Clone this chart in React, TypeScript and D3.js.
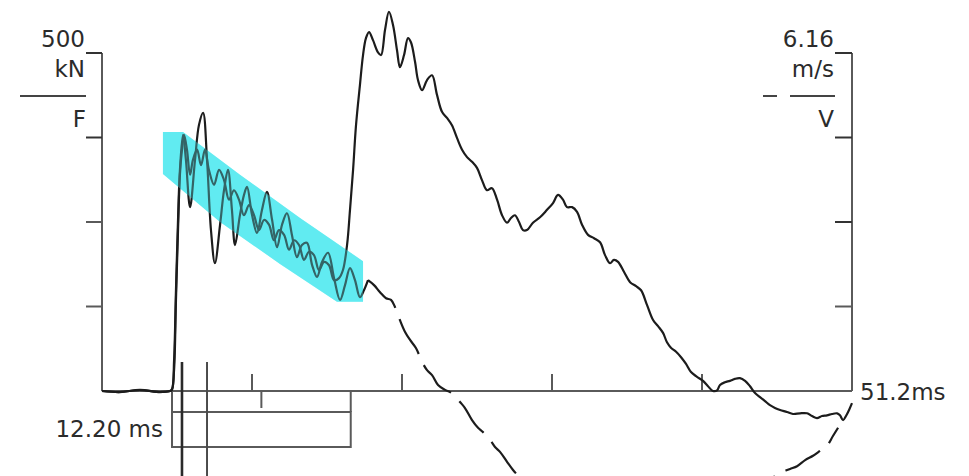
import React, { useEffect, useRef } from 'react'
import * as d3 from 'd3'

// force trace (solid), time in ms / force in kN
const forceTime = [
	0, 1.23, 2.59, 3.96, 4.64, 4.78, 4.92, 5.05, 5.19, 5.32, 5.46, 5.6, 5.8, 6.01, 6.21, 6.49, 6.76, 7.03,
	7.3, 7.65, 7.99, 8.33, 8.67, 9.01, 9.35, 9.69, 10.04, 10.38, 10.72, 11.06, 11.4, 11.74, 12.08, 12.43,
	12.77, 13.11, 13.45, 13.79, 14.13, 14.47, 14.81, 15.16, 15.5, 15.84, 16.18, 16.45, 16.73, 16.93, 17.14,
	17.34, 17.61, 17.82, 18.02, 18.23, 18.5, 18.84, 19.05, 19.32, 19.59, 19.87, 20.14, 20.34, 20.62, 20.89,
	21.09, 21.37, 21.57, 21.85, 22.19, 22.53, 22.87, 23.21, 23.55, 23.89, 24.24, 24.58, 24.92, 25.26, 25.6,
	25.94, 26.28, 26.62, 26.97, 27.31, 27.65, 27.92, 28.19, 28.47, 28.74, 29.01, 29.42, 29.9, 30.38, 30.79,
	31.13, 31.47, 31.74, 32.09, 32.43, 32.77, 33.18, 33.59, 34.0, 34.34, 34.68, 34.95, 35.23, 35.64, 36.05,
	36.46, 36.8, 37.21, 37.62, 37.96, 38.3, 38.57, 38.84, 39.19, 39.53, 39.87, 40.21, 40.62, 41.03, 41.37,
	41.71, 41.99, 42.19, 42.53, 42.87, 43.21, 43.55, 43.9, 44.24, 44.58, 44.92, 45.26, 45.6, 45.94, 46.29,
	46.76, 47.17, 47.65, 48.13, 48.47, 48.81, 49.15, 49.49, 49.84, 50.18, 50.38, 50.59, 50.79, 51.0, 51.2,
]
const forceKN = [
	0, -1.5, 1.5, -1.5, 0, 3, 31, 135, 238, 320, 357, 379, 357, 320, 342, 357, 334, 357,
	327, 305, 327, 312, 283, 297, 283, 260, 275, 260, 238, 253, 246, 223, 238, 231,
	209, 223, 216, 194, 206, 201, 179, 191, 186, 164, 167, 179, 216, 268, 327,
	393, 453, 497, 522, 531, 519, 501, 497, 534, 561, 541, 504, 479, 497, 522,
	516, 487, 460, 445, 460, 467, 438, 413, 404, 393, 374, 357, 346, 339, 330,
	312, 297, 300, 283, 260, 249, 256, 260, 250, 238, 238, 249, 257, 268, 278,
	290, 283, 272, 272, 265, 246, 231, 226, 220, 201, 189, 194, 191, 176, 161,
	155, 149, 127, 105, 96, 86, 72, 64, 58, 50, 40, 28, 21, 15, 7,
	0, 1, 9, 13, 15, 18, 19, 15, 7, -3, -9, -15, -21, -25, -28,
	-31, -34, -33, -33, -37, -40, -37, -36, -34, -33, -36, -43, -37, -28, -18,
]

// velocity trace (dashed), time in ms / velocity in m/s
const velTime = [
	0, 1.23, 2.59, 3.96, 4.64, 4.78, 4.92, 5.05, 5.19, 5.32, 5.53, 5.73, 6.01, 6.35, 6.62, 6.9, 7.17, 7.44,
	7.71, 8.06, 8.33, 8.6, 8.87, 9.08, 9.42, 9.69, 9.9, 10.24, 10.58, 10.92, 11.26, 11.61, 11.95, 12.29,
	12.63, 12.97, 13.31, 13.65, 13.99, 14.34, 14.68, 15.02, 15.43, 15.84, 16.25, 16.59, 16.93, 17.27, 17.61,
	17.89, 18.16, 18.57, 18.98, 19.39, 19.73, 20.0, 20.34, 20.68, 21.03, 21.44, 21.85, 22.19, 22.53, 22.94,
	23.42, 23.76, 24.1, 24.44, 24.78, 25.26, 25.67, 26.01, 26.49, 26.83, 27.17, 27.65, 28.06, 28.54, 29.56,
	31.27, 34.0, 37.41, 40.82, 43.55, 45.26, 45.94, 46.42, 46.97, 47.45, 48.0, 48.54, 49.02, 49.49, 49.9,
	50.25,
]
const velMS = [
	0, -0.02, 0.02, -0.02, 0, 0.02, 0.56, 1.84, 3.12, 4.03, 4.67, 4.21, 3.35, 4.21, 4.85, 5.07, 4.21, 2.93,
	2.33, 3.03, 3.66, 4.03, 3.3, 2.66, 3.21, 3.57, 3.72, 3.21, 2.88, 3.3, 3.63, 3.12, 2.62, 3.03,
	3.24, 2.84, 2.44, 2.66, 2.7, 2.3, 2.08, 2.35, 2.52, 2.06, 1.66, 1.93, 2.24, 2.02, 1.71,
	1.84, 2.02, 1.93, 1.8, 1.69, 1.66, 1.53, 1.29, 1.08, 0.93, 0.78, 0.53, 0.38, 0.29, 0.11,
	0.02, -0.02, -0.09, -0.2, -0.31, -0.53, -0.67, -0.75, -0.89, -1.02, -1.11, -1.29, -1.44, -1.59, -1.99,
	-2.53, -3.17, -3.54, -3.54, -2.72, -1.84, -1.55, -1.48, -1.42, -1.37, -1.26, -1.18, -1.09, -1.0, -0.82,
	-0.67,
]

// highlighted decay band (time ms, force kN), drawn as a closed outline
const bandTime = [4.16, 5.53, 9.42, 13.52, 17.82, 17.82, 16.04, 12.15, 8.06, 4.16]
const bandKN = [383, 383, 320, 256, 192, 132, 132, 188, 250, 321]

const timeTicks = [10.24, 20.48, 30.72, 40.96]
const forceTicks = [125, 250, 375, 500]
const impactTime = 4.78
const waveTime = 12.2 // 2L/c
const markerTimes = [5.46, 7.17]
const splitTime = 18.16 // velocity leaves the force trace here

const W = 969
const H = 476
const FONT = 'DejaVu Sans, Verdana, sans-serif'

const useD3 = (render: (svg: any) => void) => {
	const ref = useRef<SVGSVGElement>(null)
	useEffect(() => {
		const svg = d3.select(ref.current)
		svg.selectAll('*').remove()
		render(svg)
	}, [])
	return ref
}

export default function App() {
	const ref = useD3(svg => {
		const x = d3.scaleLinear().domain([0, 51.2]).range([102, 852])
		const yF = d3.scaleLinear().domain([0, 500]).range([391, 53])
		const yV = d3.scaleLinear().domain([0, 6.16]).range([391, 53])
		const axisCol = '#5a5a5a'
		const textCol = '#2b2b2b'

		// cyan band underneath
		const band = bandTime.map((t, i) => [x(t), yF(bandKN[i])] as [number, number])
		svg.append('path')
			.attr('d', d3.line()(band) + 'Z')
			.attr('fill', '#62ecf1')

		// frame: left axis, right axis, time axis
		const g = svg.append('g').attr('stroke', axisCol).attr('stroke-width', 2).attr('fill', 'none')
		g.append('line').attr('x1', x(0)).attr('x2', x(0)).attr('y1', yF(500)).attr('y2', yF(0))
		g.append('line').attr('x1', x(51.2)).attr('x2', x(51.2)).attr('y1', yF(500)).attr('y2', yF(0))
		g.append('line').attr('x1', x(0)).attr('x2', x(51.2)).attr('y1', yF(0)).attr('y2', yF(0))

		forceTicks.forEach(v => {
			g.append('line').attr('x1', x(0) - 16).attr('x2', x(0)).attr('y1', yF(v)).attr('y2', yF(v))
				.attr('stroke', v === 500 || v === 375 ? '#333' : axisCol)
			g.append('line').attr('x1', x(51.2) - 17).attr('x2', x(51.2)).attr('y1', yF(v)).attr('y2', yF(v))
				.attr('stroke', v === 500 || v === 375 || v === 250 ? '#333' : axisCol)
		})
		timeTicks.forEach(t => {
			g.append('line').attr('x1', x(t)).attr('x2', x(t)).attr('y1', yF(0) - 17).attr('y2', yF(0))
		})

		// 2L/c window box below the axis
		const b0 = x(impactTime)
		const b1 = x(impactTime + waveTime)
		const bh = x(impactTime + waveTime / 2)
		const base = yF(0)
		g.append('line').attr('x1', b0).attr('x2', b0).attr('y1', base).attr('y2', base + 56)
		g.append('line').attr('x1', b1).attr('x2', b1).attr('y1', base).attr('y2', base + 21)
		g.append('line').attr('x1', bh).attr('x2', bh).attr('y1', base).attr('y2', base + 17)
		g.append('rect').attr('x', b0).attr('y', base + 21).attr('width', b1 - b0).attr('height', 35)

		markerTimes.forEach((t, i) => {
			svg.append('line')
				.attr('x1', x(t)).attr('x2', x(t)).attr('y1', base - 29).attr('y2', H)
				.attr('stroke', i === 0 ? '#2a2a2a' : '#4a4a4a')
				.attr('stroke-width', i === 0 ? 2.6 : 2)
		})

		// traces
		const curve = d3.curveCatmullRom.alpha(0.5)
		const fLine = d3.line<number>().x((d, i) => x(forceTime[i])).y(d => yF(d)).curve(curve)
		svg.append('path')
			.attr('d', fLine(forceKN))
			.attr('fill', 'none').attr('stroke', '#1c1c1c').attr('stroke-width', 2.2)

		const vPts = velTime.map((t, i) => [t, velMS[i]])
		const vLine = d3.line<number[]>().x(d => x(d[0])).y(d => yV(d[1])).curve(curve)
		svg.append('path')
			.attr('d', vLine(vPts.filter(d => d[0] <= splitTime)))
			.attr('fill', 'none').attr('stroke', '#1c1c1c').attr('stroke-width', 2.2)
		svg.append('path')
			.attr('d', vLine(vPts.filter(d => d[0] >= splitTime)))
			.attr('fill', 'none').attr('stroke', '#1c1c1c').attr('stroke-width', 2.2)
			.attr('stroke-dasharray', '40,12')

		// band tint over the traces inside it
		svg.append('path')
			.attr('d', d3.line()(band) + 'Z')
			.attr('fill', '#62ecf1').attr('opacity', 0.35)

		// labels
		const txt = (s: string, tx: number, ty: number, anchor = 'end') =>
			svg.append('text').text(s)
				.attr('x', tx).attr('y', ty)
				.attr('text-anchor', anchor)
				.attr('font-family', FONT).attr('font-size', 23).attr('fill', textCol)

		txt('500', 85, 47)
		txt('kN', 85, 77)
		txt('F', 86, 127)
		svg.append('line').attr('x1', 20).attr('x2', 86).attr('y1', 96).attr('y2', 96)
			.attr('stroke', '#444').attr('stroke-width', 2)

		txt('6.16', 834, 47)
		txt('m/s', 834, 77)
		txt('V', 834, 127)
		svg.append('line').attr('x1', 763).attr('x2', 777).attr('y1', 96).attr('y2', 96)
			.attr('stroke', '#444').attr('stroke-width', 2)
		svg.append('line').attr('x1', 790).attr('x2', 835).attr('y1', 96).attr('y2', 96)
			.attr('stroke', '#444').attr('stroke-width', 2)

		txt('12.20 ms', 163, 437)
		txt('51.2ms', 860, 400, 'start')
	})

	return (
		<svg
			ref={ref}
			width={W}
			height={H}
			style={{ position: 'absolute', left: 0, top: 0, background: '#fff', overflow: 'hidden' }}
		></svg>
	)
}
